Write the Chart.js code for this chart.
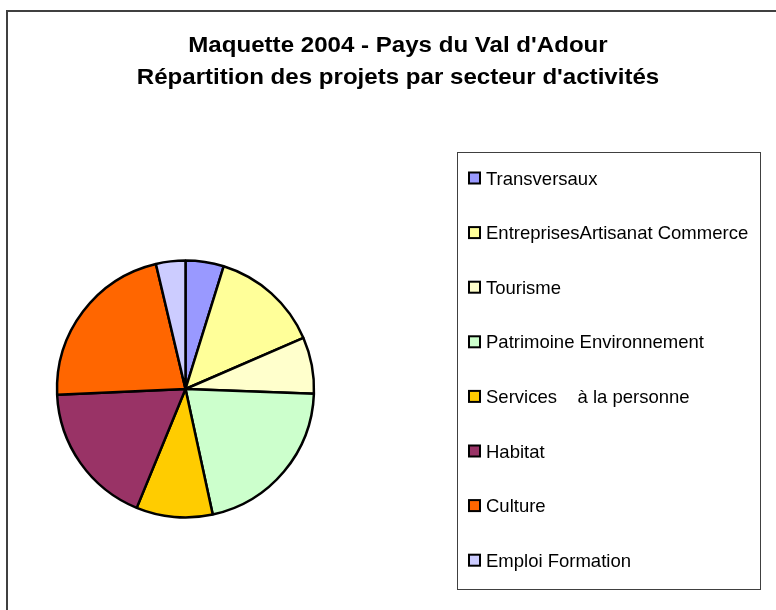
<!DOCTYPE html>
<html>
<head>
<meta charset="utf-8">
<title>Maquette 2004 - Pays du Val d'Adour</title>
<script src="https://cdn.jsdelivr.net/npm/chart.js@4/dist/chart.umd.min.js"></script>
<style>
  body { margin: 0; background: #fff; }
  canvas { display: block; }
</style>
</head>
<body>
<canvas id="graphique" width="776" height="610"></canvas>
<script>
// Données (parts en %)
const titre = ['Maquette 2004 - Pays du Val d\'Adour', 'Répartition des projets par secteur d\'activités'];
const secteurs = ['Transversaux', 'EntreprisesArtisanat Commerce', 'Tourisme', 'Patrimoine Environnement',
  'Services    à la personne', 'Habitat', 'Culture', 'Emploi Formation'];
const parts = [4.8, 13.7, 7.1, 21.0, 9.6, 18.1, 22.0, 3.7];
const couleurs = ['#9999FF', '#FFFF99', '#FFFFCC', '#CCFFCC', '#FFCC00', '#993366', '#FF6600', '#CCCCFF'];

// cadre, titre et légende façon Excel
const decor = {
  id: 'decor',
  afterDraw(chart) {
    const c = chart.ctx;
    c.save();
    // cadre extérieur
    c.strokeStyle = '#404040';
    c.lineWidth = 2;
    c.strokeRect(7, 11, 800, 700);

    // titre
    c.fillStyle = '#000';
    c.textAlign = 'center';
    c.textBaseline = 'alphabetic';
    c.font = 'bold 22px "Liberation Sans", Arial, sans-serif';
    [52, 83.5].forEach((y, i) => {
      c.save();
      c.translate(398, y);
      c.scale(1.095, 1);
      c.fillText(titre[i], 0, 0);
      c.restore();
    });

    // légende
    c.lineWidth = 1;
    c.strokeStyle = '#404040';
    c.strokeRect(457.5, 152.5, 303, 437);
    c.font = '18.5px "Liberation Sans", Arial, sans-serif';
    c.textAlign = 'left';
    c.textBaseline = 'middle';
    const meta = chart.getDatasetMeta(0);
    secteurs.forEach((s, i) => {
      const y = 178.5 + i * 54.6;
      c.fillStyle = meta.data[i].options.backgroundColor;
      c.fillRect(469, y - 6, 11, 11);
      c.strokeStyle = '#000';
      c.lineWidth = 2;
      c.strokeRect(469, y - 6, 11, 11);
      c.fillStyle = '#000';
      c.fillText(s, 486, y + 1);
    });
    c.restore();
  }
};

const chart = new Chart(document.getElementById('graphique').getContext('2d'), {
  type: 'pie',
  data: {
    labels: secteurs,
    datasets: [{
      data: parts,
      backgroundColor: couleurs,
      borderColor: '#000',
      borderWidth: 2.5
    }]
  },
  options: {
    responsive: false,
    animation: false,
    radius: 128.5,
    layout: { padding: { left: 56, right: 461, top: 260, bottom: 92 } },
    plugins: {
      legend: { display: false },
      tooltip: { enabled: false },
      title: { display: false }
    }
  },
  plugins: [decor]
});
</script>
</body>
</html>
